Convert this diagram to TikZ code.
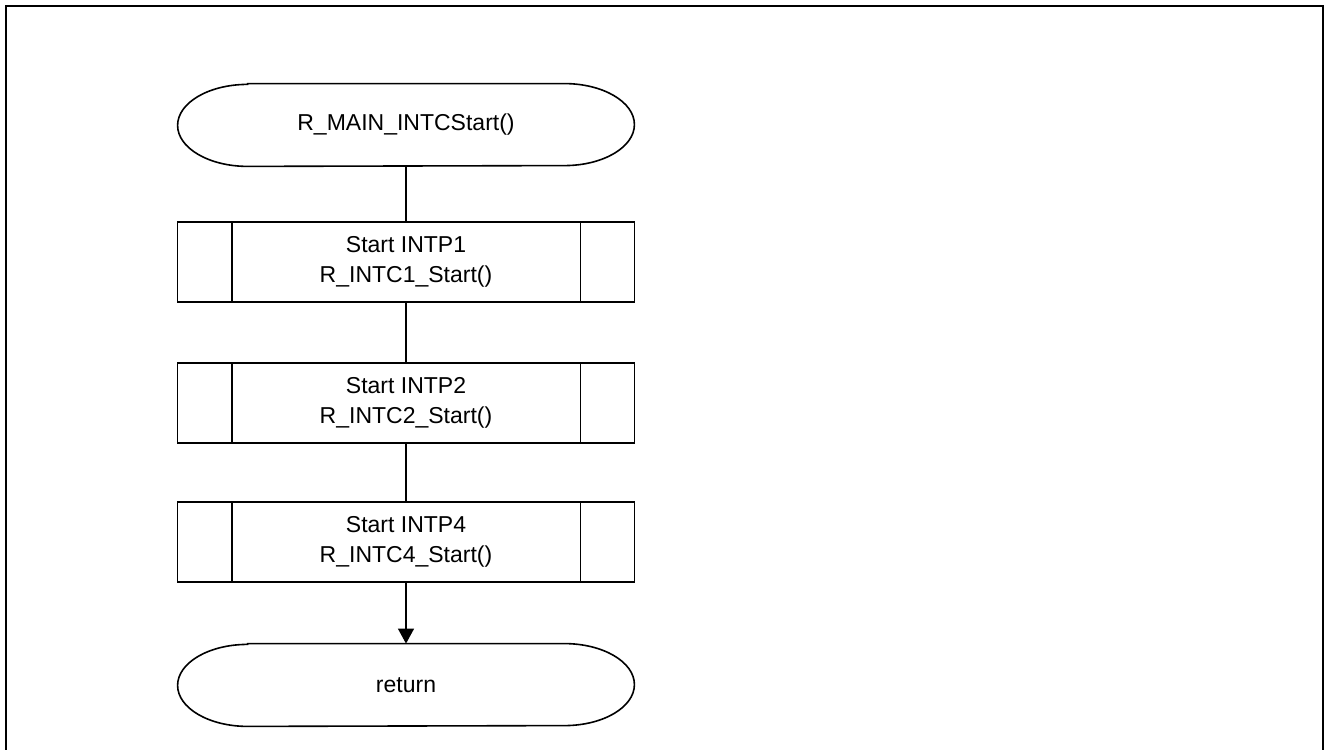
\documentclass[tikz,border=0pt]{standalone}
\usepackage{fontspec}
\setmainfont{Liberation Sans}
\usepackage{tikz}
\usetikzlibrary{
	arrows.meta,
	calc,
	positioning
}
\tikzset{
	proc/.style={draw, line width=0.8pt, rectangle, minimum width=228.5pt, minimum height=40pt, align=center, inner sep=0pt},
	term/.style={rectangle, minimum width=228pt, minimum height=41pt, inner sep=0pt},
	flow/.style={line width=0.7pt}
}

\begin{document}
\begin{tikzpicture}
	[x=0.5pt, y=0.5pt, font=\fontsize{11.5}{15}\selectfont]

	\useasboundingbox (0,0) rectangle (1325,749);

	% outer frame (open at the bottom)
	\draw [line width=1pt] (6,-10) -- (6,743) -- (1323,743) -- (1323,-10);

	% nodes
	\node [term] (start) at (406,624) {R\_MAIN\_INTCStart()};
	\node [proc] (intp1) at (406,487) {Start INTP1\\R\_INTC1\_Start()};
	\node [proc] (intp2) at (406,346) {Start INTP2\\R\_INTC2\_Start()};
	\node [proc] (intp4) at (406,207) {Start INTP4\\R\_INTC4\_Start()};
	\node [term] (ret) at (406,64) {return};

	% terminal outlines
	\newcommand{\EndRx}{35pt}
	\newcommand{\EndRy}{20.5pt}
	\foreach \t in {start, ret} {
		\draw [line width=0.8pt]
			([xshift=\EndRx]\t.north west) -- ([xshift=-\EndRx]\t.north east)
			arc [start angle=90, end angle=-90, x radius=\EndRx, y radius=\EndRy]
			-- ([xshift=\EndRx]\t.south west)
			arc [start angle=270, end angle=90, x radius=\EndRx, y radius=\EndRy]
			-- cycle;
	}

	% predefined process side bars
	\newcommand{\BarOffset}{27.5pt}
	\foreach \b in {intp1, intp2, intp4} {
		\draw [line width=0.8pt] ([xshift=\BarOffset]\b.north west) -- ([xshift=\BarOffset]\b.south west);
		\draw [line width=0.8pt] ([xshift=-\BarOffset]\b.north east) -- ([xshift=-\BarOffset]\b.south east);
	}

	% connectors
	\begin{scope}[flow]
		\draw (start) -- (intp1);
		\draw (intp1) -- (intp2);
		\draw (intp2) -- (intp4);
		\draw [-{Triangle[length=7.5pt, width=8pt]}] (intp4) -- (ret);
	\end{scope}

\end{tikzpicture}
\end{document}
